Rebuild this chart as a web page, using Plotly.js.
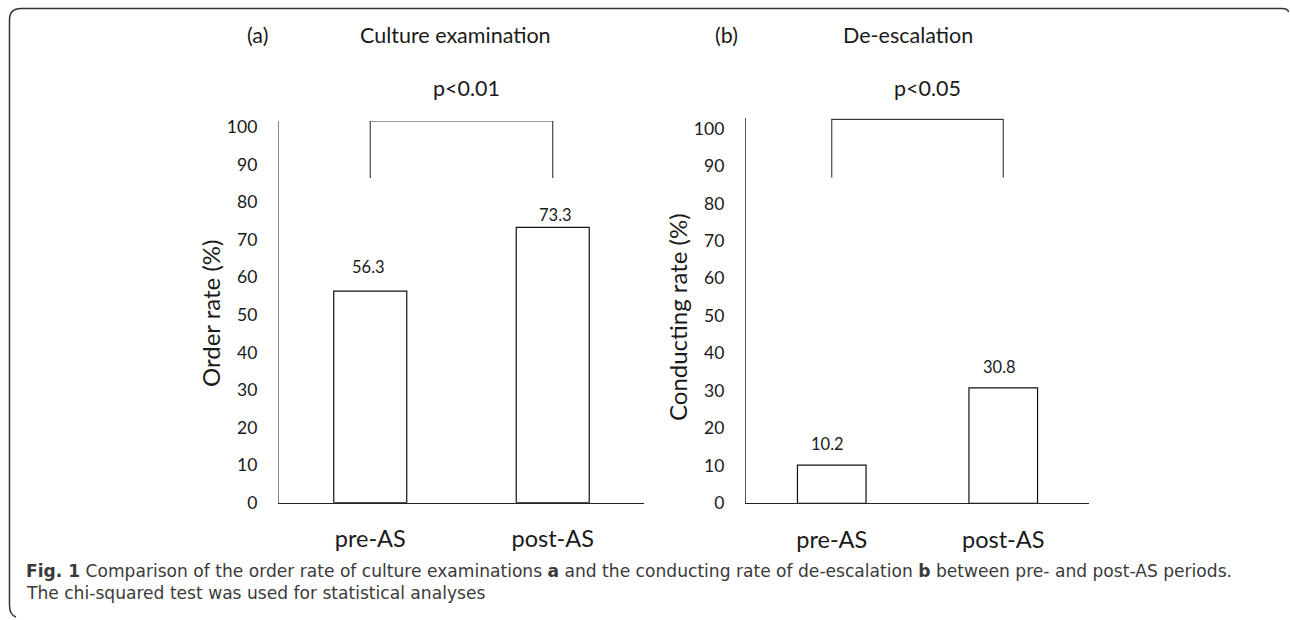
<!DOCTYPE html>
<html>
<head>
<meta charset="utf-8">
<script src="https://cdn.plot.ly/plotly-3.0.1.min.js"></script>
<style>
  html, body { margin: 0; padding: 0; background: #fff; }
  #chart { width: 1290px; height: 620px; }
</style>
</head>
<body>
<div id="chart"></div>
<script>
// ---- data ----
const categories = ['pre-AS', 'post-AS'];
const cultureRate = [56.3, 73.3];      // (a) Order rate (%)
const deescalationRate = [10.2, 30.8]; // (b) Conducting rate (%)
const yTickVals = [0, 10, 20, 30, 40, 50, 60, 70, 80, 90, 100];
const panelLabels = ['(a)', '(b)'];
const panelTitles = ['Culture examination', 'De-escalation'];
const pValues = ['p<0.01', 'p<0.05'];
const yTitles = ['Order rate (%)', 'Conducting rate (%)'];
const captionLines = [
  '<b>Fig. 1</b> Comparison of the order rate of culture examinations <b>a</b> and the conducting rate of de-escalation <b>b</b> between pre- and post-AS periods.',
  'The chi-squared test was used for statistical analyses'
];

// ---- layout helpers ----
const W = 1290, H = 620;
const px = x => x / W;
const py = y => 1 - y / H;
const FONT = 'Lato, "Open Sans", sans-serif';
const TXT = '#1a1a1a';

function barTrace(values, xa, ya) {
  return {
    type: 'bar', x: categories, y: values, xaxis: xa, yaxis: ya,
    width: 0.4,
    marker: { color: '#ffffff', line: { color: '#111', width: 1.2 } },
    hoverinfo: 'skip', showlegend: false
  };
}

const data = [
  barTrace(cultureRate, 'x', 'y'),
  barTrace(deescalationRate, 'x2', 'y2')
];

function xAxis(domain, anchor) {
  return {
    domain: domain, anchor: anchor, type: 'category', range: [-0.5, 1.5],
    showline: true, linecolor: '#222', linewidth: 1,
    ticks: '', showgrid: false, zeroline: false,
    tickfont: { family: FONT, size: 23.5, color: TXT },
    ticklabelstandoff: 15, fixedrange: true
  };
}
function yAxis(domain, anchor, top, lc) {
  return {
    domain: domain, anchor: anchor, range: [0, top],
    tickvals: yTickVals, ticktext: yTickVals.map(String),
    showline: true, linecolor: lc, linewidth: 1.2,
    ticks: '', showgrid: false, zeroline: false,
    tickfont: { family: FONT, size: 17.5, color: TXT },
    ticklabelstandoff: 17, fixedrange: true
  };
}

// value labels
const valueLabelShift = [[24, 12], [21, 21]];
const valueLabelX = [[-2, 2.5], [-4, -3.5]];
const annotations = [];
[[cultureRate, 'x', 'y'], [deescalationRate, 'x2', 'y2']].forEach((p, i) => {
  p[0].forEach((v, j) => {
    annotations.push({
      x: categories[j], y: v, xref: p[1], yref: p[2],
      text: v.toFixed(1), showarrow: false,
      xanchor: 'center', yanchor: 'middle',
      yshift: valueLabelShift[i][j], xshift: valueLabelX[i][j],
      font: { family: FONT, size: 16.5, color: TXT }
    });
  });
});

function paperText(text, x, y, size, extra) {
  return Object.assign({
    text: text, x: px(x), y: py(y), xref: 'paper', yref: 'paper',
    showarrow: false, xanchor: 'center', yanchor: 'middle',
    font: { family: FONT, size: size, color: TXT }
  }, extra || {});
}

annotations.push(paperText(panelLabels[0], 257.5, 35, 21.5));
annotations.push(paperText(panelTitles[0], 455, 35, 21.5));
annotations.push(paperText(pValues[0], 466.5, 88, 21.5));
annotations.push(paperText(panelLabels[1], 726.5, 35, 21.5));
annotations.push(paperText(panelTitles[1], 908, 35, 21.5));
annotations.push(paperText(pValues[1], 927.5, 88, 21.5));
annotations.push(paperText(yTitles[0], 210, 314, 24, { textangle: -90 }));
annotations.push(paperText(yTitles[1], 678, 317, 24, { textangle: -90 }));

// caption
const captionY = [571, 593];
captionLines.forEach((t, k) => {
  annotations.push({
    text: t, x: px(24), y: py(captionY[k]), xref: 'paper', yref: 'paper',
    showarrow: false, xanchor: 'left', yanchor: 'middle', align: 'left',
    font: { family: '"DejaVu Sans", sans-serif', size: 17.1, color: '#3a3a3a' }
  });
});

// significance brackets (category positions, y levels in data units)
function bracket(xa, ya, top, bottom) {
  return {
    type: 'path', xref: xa, yref: ya,
    path: 'M 0,' + bottom + ' L 0,' + top + ' L 1,' + top + ' L 1,' + bottom,
    line: { color: '#333', width: 1.1 }
  };
}

// outer frame (top and left edges with rounded corners)
function framePath() {
  const pts = [
    ['M', 16, 617], ['Q', 9.5, 615, 9.5, 605], ['L', 9.5, 20],
    ['Q', 9.5, 8.5, 21, 8.5], ['L', 1282, 8.5], ['Q', 1288, 8.5, 1288.5, 12]
  ];
  return pts.map(p => {
    const c = p.slice(1);
    const out = [];
    for (let k = 0; k < c.length; k += 2) out.push(px(c[k]).toFixed(5) + ',' + py(c[k + 1]).toFixed(5));
    return p[0] + ' ' + out.join(' ');
  }).join(' ');
}

const layout = {
  width: W, height: H,
  margin: { l: 0, r: 0, t: 0, b: 0 },
  paper_bgcolor: '#fff', plot_bgcolor: '#fff',
  showlegend: false,
  xaxis: xAxis([px(279), px(644)], 'y'),
  yaxis: yAxis([py(502.7), py(121)], 'x', 101.6, '#8a8a8a'),
  xaxis2: xAxis([px(746), px(1089)], 'y2'),
  yaxis2: yAxis([py(503.3), py(118.3)], 'x2', 102.7, '#555'),
  annotations: annotations,
  shapes: [
    bracket('x', 'y', 101.6, 86.4),
    bracket('x2', 'y2', 102.4, 86.9),
    { type: 'path', xref: 'paper', yref: 'paper', path: framePath(),
      line: { color: '#333', width: 1.5 } }
  ]
};

Plotly.newPlot('chart', data, layout, { staticPlot: true, displayModeBar: false });
</script>
</body>
</html>
